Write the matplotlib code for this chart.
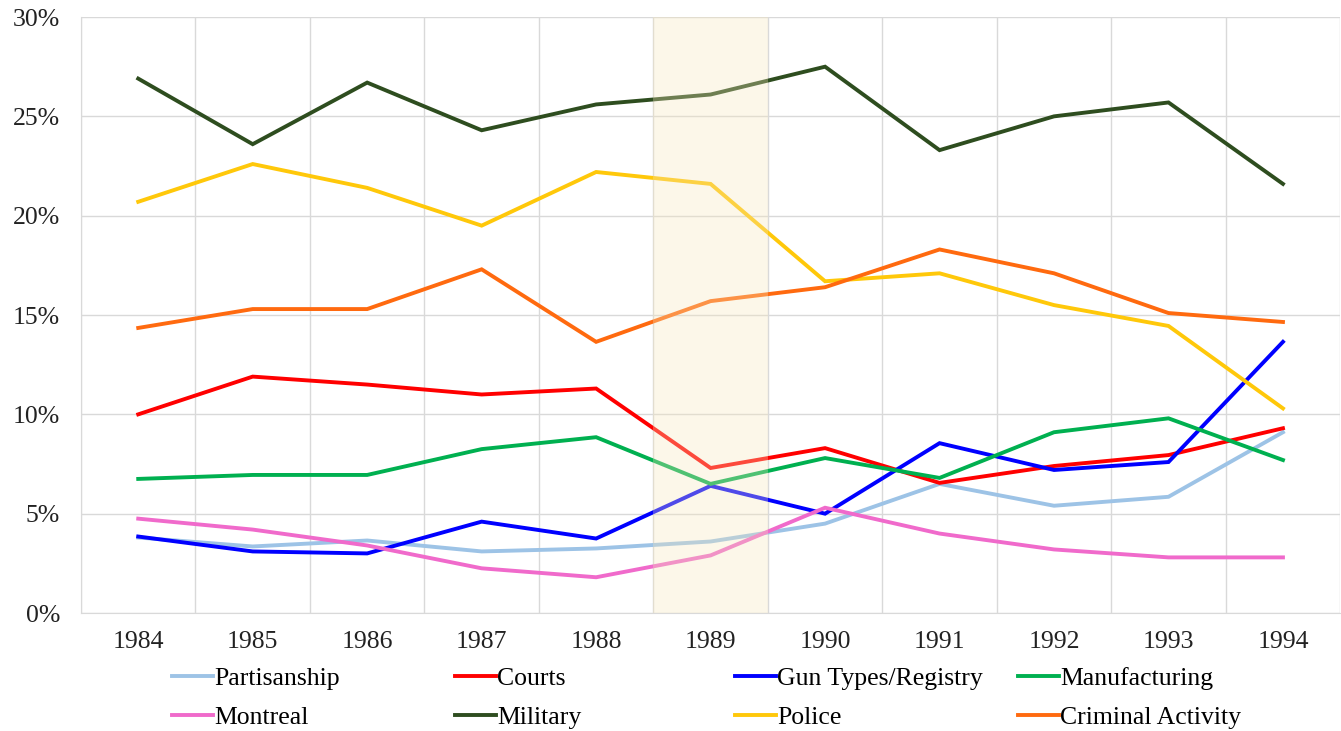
import matplotlib.pyplot as plt
from matplotlib.ticker import FuncFormatter, MultipleLocator

plt.rcParams['font.family'] = ['Liberation Serif', 'DejaVu Serif']

years = [1984, 1985, 1986, 1987, 1988, 1989, 1990, 1991, 1992, 1993, 1994]

partisanship = [3.8, 3.35, 3.65, 3.1, 3.25, 3.6, 4.5, 6.5, 5.4, 5.85, 9.1]
courts = [10.0, 11.9, 11.5, 11.0, 11.3, 7.3, 8.3, 6.55, 7.4, 7.95, 9.3]
gun_types = [3.85, 3.1, 3.0, 4.6, 3.75, 6.4, 5.0, 8.55, 7.2, 7.6, 13.65]
manufacturing = [6.75, 6.95, 6.95, 8.25, 8.85, 6.5, 7.8, 6.8, 9.1, 9.8, 7.7]
montreal = [4.75, 4.2, 3.4, 2.25, 1.8, 2.9, 5.3, 4.0, 3.2, 2.8, 2.8]
military = [26.9, 23.6, 26.7, 24.3, 25.6, 26.1, 27.5, 23.3, 25.0, 25.7, 21.6]
police = [20.7, 22.6, 21.4, 19.5, 22.2, 21.6, 16.7, 17.1, 15.5, 14.45, 10.3]
criminal = [14.35, 15.3, 15.3, 17.3, 13.65, 15.7, 16.4, 18.3, 17.1, 15.1, 14.65]

series = [
    ('Partisanship', partisanship, '#9DC3E6'),
    ('Courts', courts, '#FF0000'),
    ('Gun Types/Registry', gun_types, '#0000FF'),
    ('Manufacturing', manufacturing, '#00B050'),
    ('Montreal', montreal, '#F06ACB'),
    ('Military', military, '#2E4D1F'),
    ('Police', police, '#FFC80A'),
    ('Criminal Activity', criminal, '#FF6A0F'),
]

fig = plt.figure(figsize=(13.41, 7.31), dpi=100)
ax = fig.add_axes([0.0604, 0.1614, 0.939, 0.8153])

handles = {}
for name, vals, color in series:
    line, = ax.plot(years, vals, color=color, lw=2.8, label=name, zorder=3,
                    solid_joinstyle='miter')
    handles[name] = line

# highlighted year, drawn over the lines so they look washed out
ax.axvspan(1988.5, 1989.5, color='#F6E7BC', alpha=0.32, lw=0, zorder=4)

ax.set_xlim(1983.5, 1994.5)
ax.set_ylim(0, 30)
ax.set_xticks(years)
ax.xaxis.set_minor_locator(MultipleLocator(1, offset=0.5))
ax.yaxis.set_major_locator(MultipleLocator(5))
ax.yaxis.set_major_formatter(FuncFormatter(lambda v, p: f'{v:.0f}%'))

ax.grid(which='minor', axis='x', color='#D9D9D9', lw=1, zorder=0)
ax.grid(which='major', axis='y', color='#D9D9D9', lw=1, zorder=0)
ax.tick_params(which='both', length=0, labelsize=18.5, colors='#222222')
ax.tick_params(axis='x', pad=13)
ax.tick_params(axis='y', pad=15)
for side in ['top', 'right']:
    ax.spines[side].set_visible(False)
ax.spines['left'].set_color('#D9D9D9')
ax.spines['bottom'].set_color('#D9D9D9')

# legend: four fixed-width columns of two rows
columns = [
    ['Partisanship', 'Montreal'],
    ['Courts', 'Military'],
    ['Gun Types/Registry', 'Police'],
    ['Manufacturing', 'Criminal Activity'],
]
col_x = [0.128, 0.339, 0.548, 0.759]
for cx, names in zip(col_x, columns):
    fig.legend([handles[n] for n in names], names, loc='upper left',
               bbox_to_anchor=(cx, 0.087), frameon=False, fontsize=18.5,
               handlelength=1.6, handletextpad=0.05, labelspacing=0.62,
               borderaxespad=0, borderpad=0)

fig.savefig('out.png', dpi=100)
